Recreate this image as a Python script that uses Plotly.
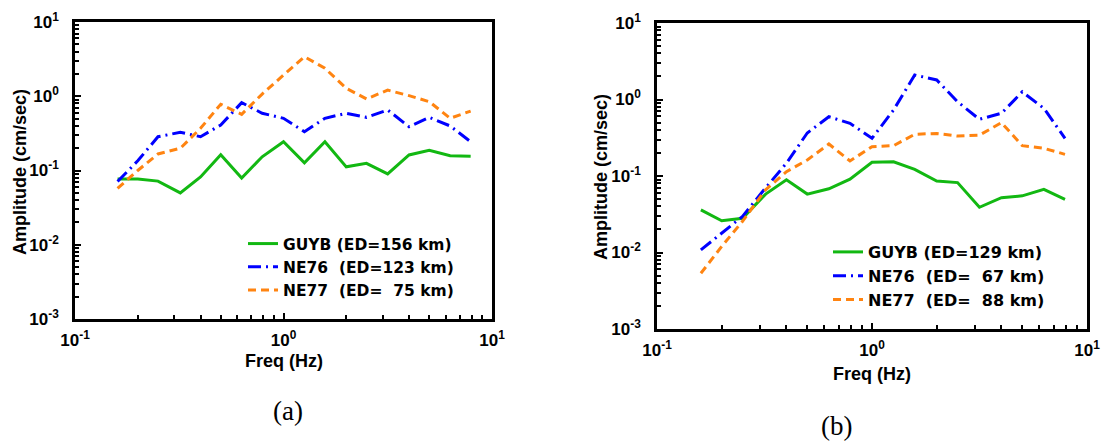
import plotly.graph_objects as go

# ---------------- data ----------------
freq = [0.16, 0.2, 0.25, 0.32, 0.4, 0.5, 0.63, 0.79, 1.0, 1.26, 1.58, 2.0, 2.5, 3.16, 4.0, 5.0, 6.3, 7.9]

a_guyb = [0.077, 0.077, 0.072, 0.050, 0.082, 0.163, 0.079, 0.153, 0.244, 0.127, 0.244, 0.112, 0.125, 0.090, 0.162, 0.187, 0.158, 0.156]
a_ne76 = [0.071, 0.135, 0.285, 0.327, 0.285, 0.41, 0.82, 0.59, 0.505, 0.333, 0.505, 0.59, 0.52, 0.653, 0.389, 0.52, 0.398, 0.244]
a_ne77 = [0.0575, 0.10, 0.167, 0.199, 0.37, 0.78, 0.571, 1.07, 1.93, 3.41, 2.38, 1.28, 0.92, 1.21, 1.02, 0.845, 0.505, 0.632]

b_guyb = [0.036, 0.026, 0.028, 0.058, 0.089, 0.058, 0.068, 0.091, 0.151, 0.153, 0.122, 0.086, 0.082, 0.039, 0.052, 0.055, 0.067, 0.0496]
b_ne76 = [0.0108, 0.018, 0.0297, 0.07, 0.147, 0.365, 0.595, 0.489, 0.311, 0.73, 2.09, 1.8, 0.935, 0.551, 0.66, 1.26, 0.767, 0.311]
b_ne77 = [0.00535, 0.012, 0.0256, 0.066, 0.114, 0.162, 0.262, 0.157, 0.242, 0.249, 0.351, 0.36, 0.333, 0.342, 0.498, 0.249, 0.23, 0.192]

a_names = ["GUYB (ED=156 km)", "NE76&nbsp; (ED=123 km)", "NE77&nbsp; (ED=&nbsp; 75 km)"]
b_names = ["GUYB (ED=129 km)", "NE76&nbsp; (ED=&nbsp; 67 km)", "NE77&nbsp; (ED=&nbsp; 88 km)"]

x_tickvals = [0.1, 1, 10]
x_ticktext = ["10<sup>-1</sup>", "10<sup>0</sup>", "10<sup>1</sup>"]
y_tickvals = [0.001, 0.01, 0.1, 1, 10]
y_ticktext = ["10<sup>-3</sup>", "10<sup>-2</sup>", "10<sup>-1</sup>", "10<sup>0</sup>", "10<sup>1</sup>"]

# ---------------- styles ----------------
GREEN = "#12B812"
BLUE = "#0000FF"
ORANGE = "#FF8411"
styles = [
    dict(color=GREEN, width=3, dash="solid"),
    dict(color=BLUE, width=3, dash="13px,5px,2px,5px"),
    dict(color=ORANGE, width=3, dash="8px,5px"),
]
FONT = "Liberation Sans, Arial, sans-serif"
LEGFONT = "DejaVu Sans, Liberation Sans, Arial, sans-serif"

W, H = 1102, 441
def px_x(p):
    return p / W
def px_y(p):
    return 1 - p / H

fig = go.Figure()

for ys, nm, st in zip([a_guyb, a_ne76, a_ne77], a_names, styles):
    fig.add_trace(go.Scatter(x=freq, y=ys, name=nm, mode="lines", line=st,
                             xaxis="x", yaxis="y", legend="legend"))
for ys, nm, st in zip([b_guyb, b_ne76, b_ne77], b_names, styles):
    fig.add_trace(go.Scatter(x=freq, y=ys, name=nm, mode="lines", line=st,
                             xaxis="x2", yaxis="y2", legend="legend2"))

minor_x = [m * 10 ** e for e in (-1, 0) for m in range(2, 10)]
minor_y = [m * 10 ** e for e in (-3, -2, -1, 0) for m in range(2, 10)]

def xaxis(domain, anchor):
    return dict(type="log", range=[-1, 1], domain=domain, anchor=anchor,
                tickmode="array", tickvals=x_tickvals, ticktext=x_ticktext,
                ticks="inside", ticklen=6, tickwidth=2, tickcolor="black",
                minor=dict(tickmode="array", tickvals=minor_x, ticks="inside", ticklen=4,
                           tickwidth=1.5, tickcolor="black", showgrid=False),
                showline=True, linewidth=2.5, linecolor="black", mirror=True,
                showgrid=False, zeroline=False, ticklabelstandoff=4, automargin=False,
                tickfont=dict(family=FONT, size=17, color="black", weight="bold"))

def yaxis(domain, anchor):
    return dict(type="log", range=[-3, 1], domain=domain, anchor=anchor,
                tickmode="array", tickvals=y_tickvals, ticktext=y_ticktext,
                ticks="inside", ticklen=6, tickwidth=2, tickcolor="black",
                minor=dict(tickmode="array", tickvals=minor_y, ticks="inside", ticklen=4,
                           tickwidth=1.5, tickcolor="black", showgrid=False),
                showline=True, linewidth=2.5, linecolor="black", mirror=True,
                showgrid=False, zeroline=False, ticklabelstandoff=10, automargin=False,
                tickfont=dict(family=FONT, size=17, color="black", weight="bold"))

fig.update_layout(
    width=W, height=H,
    margin=dict(l=0, r=0, t=0, b=0, pad=0, autoexpand=False),
    paper_bgcolor="white", plot_bgcolor="white",
    showlegend=True,
    xaxis=xaxis([px_x(75), px_x(492)], "y"),
    yaxis=yaxis([px_y(319), px_y(22)], "x"),
    xaxis2=xaxis([px_x(657), px_x(1087)], "y2"),
    yaxis2=yaxis([px_y(329), px_y(23)], "x2"),
    legend=dict(x=px_x(243), y=px_y(227), xanchor="left", yanchor="top",
                bgcolor="rgba(0,0,0,0)", tracegroupgap=0,
                font=dict(family=LEGFONT, size=15.5, color="black", weight="bold")),
    legend2=dict(x=px_x(828), y=px_y(235), xanchor="left", yanchor="top",
                 bgcolor="rgba(0,0,0,0)", tracegroupgap=0,
                 font=dict(family=LEGFONT, size=16, color="black", weight="bold")),
    annotations=[
        dict(text="Amplitude (cm/sec)", x=px_x(20), y=px_y(172), xref="paper", yref="paper",
             textangle=-90, showarrow=False, xanchor="center", yanchor="middle",
             font=dict(family=FONT, size=18, color="black", weight="bold")),
        dict(text="Amplitude (cm/sec)", x=px_x(601), y=px_y(177), xref="paper", yref="paper",
             textangle=-90, showarrow=False, xanchor="center", yanchor="middle",
             font=dict(family=FONT, size=18, color="black", weight="bold")),
        dict(text="Freq (Hz)", x=px_x(283.5), y=px_y(361), xref="paper", yref="paper",
             showarrow=False, xanchor="center", yanchor="middle",
             font=dict(family=FONT, size=18, color="black", weight="bold")),
        dict(text="Freq (Hz)", x=px_x(872), y=px_y(374), xref="paper", yref="paper",
             showarrow=False, xanchor="center", yanchor="middle",
             font=dict(family=FONT, size=18, color="black", weight="bold")),
        dict(text="(a)", x=px_x(288), y=px_y(411), xref="paper", yref="paper",
             showarrow=False, xanchor="center", yanchor="middle",
             font=dict(family="Liberation Serif, Times New Roman, serif", size=27, color="black")),
        dict(text="(b)", x=px_x(836), y=px_y(426), xref="paper", yref="paper",
             showarrow=False, xanchor="center", yanchor="middle",
             font=dict(family="Liberation Serif, Times New Roman, serif", size=27, color="black")),
    ],
)

fig.write_html("out.html")
